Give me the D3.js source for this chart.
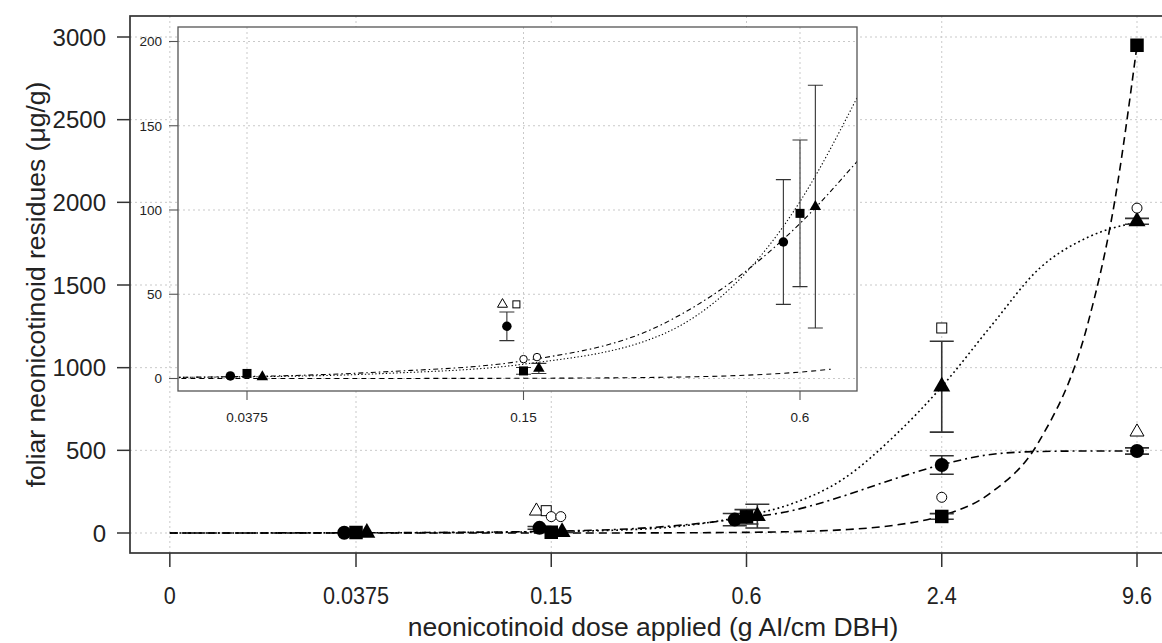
<!DOCTYPE html>
<html><head><meta charset="utf-8">
<script src="https://cdn.jsdelivr.net/npm/d3@7"></script>
<style>
html,body{margin:0;padding:0;background:#fff;}
svg{display:block;font-family:"Liberation Sans",Arial,Helvetica,sans-serif;}
</style></head><body>
<svg id="chart" width="1162" height="643"></svg>
<script>
// ---- data ---------------------------------------------------------------
// dose levels (g AI/cm DBH); the untreated control is drawn at the left end
const doseTicks = [0, 0.0375, 0.15, 0.6, 2.4, 9.6];
const doseTickLabels = ["0", "0.0375", "0.15", "0.6", "2.4", "9.6"];
const insetDoseTicks = [0.0375, 0.15, 0.6];
const doses = [0.0375, 0.15, 0.6, 2.4, 9.6];

// mean foliar residues (µg/g) with standard errors, one array per product
// (an SE of 0 means the bar is too short to draw)
const circleMean   = [1.5, 31, 81, 411, 496];
const circleSE     = [0, 8.5, 37, 56, 19];
const squareMean   = [3, 4.5, 98, 100, 2950];
const squareSE     = [0, 2, 43.5, 17, 0];
const triangleMean = [1, 6, 102, 885, 1885];
const triangleSE   = [0, 3, 72, 275, 18];

// fitted dose-response curves, sampled as [dose, residue]
const circleFit = [[0.01,0],[0.0375,1.2],[0.075,4],[0.15,10.5],[0.3,32],[0.6,92],[0.8,129],
  [1.2,225],[1.7,325],[2.4,413],[3.4,475],[4.8,493],[6.8,496],[9.6,496]];
const squareFit = [[0.01,0],[0.0375,0.005],[0.075,0.03],[0.15,0.14],[0.3,0.7],[0.6,3.8],[0.7,5.5],
  [0.8,7.5],[1.2,20],[1.7,46],[2.4,105],[3.4,243],[4.8,557],[6.8,1280],[8.2,2010],[9.6,2950]];
const triangleFit = [[0.01,0.2],[0.0375,1],[0.075,3],[0.15,8.5],[0.3,26],[0.6,105],[0.8,167],
  [1.2,330],[1.7,580],[2.4,885],[3.4,1250],[4.8,1600],[6.8,1790],[9.6,1880]];

// open symbols marking group differences: [dose, residue, shape]
const mainSymbols = [[0.15,133,"triangle"],[0.15,135,"square"],[0.15,99,"circle"],[0.15,99,"circle"],
  [2.4,1240,"square"],[2.4,216,"circle"],[9.6,1965,"circle"],[9.6,611,"triangle"]];
const insetSymbols = [[0.15,44,"triangle"],[0.15,44,"square"],[0.15,11.5,"circle"],[0.15,12.7,"circle"]];

const yTicks = [0, 500, 1000, 1500, 2000, 2500, 3000];
const insetYTicks = [0, 50, 100, 150, 200];

// ---- layout ---------------------------------------------------------------
const CONTROL_AT = 0.01;              // where dose 0 sits on the log axis
const dodgedDoses = [0.0375, 0.15, 0.6];
const dodge = {circle: 0.92, square: 1, triangle: 1.08};
const symbolNudge = [0.9, 0.965, 1, 1.07, 1, 1, 1, 1];

const series = [
  {shape: "circle",   mean: circleMean,   se: circleSE,   fit: circleFit,   dash: "8,4,2,4", insetDash: "5,3,1.5,3", insetMax: 1},
  {shape: "square",   mean: squareMean,   se: squareSE,   fit: squareFit,   dash: "8,5",     insetDash: "5,4",       insetMax: 0.7},
  {shape: "triangle", mean: triangleMean, se: triangleSE, fit: triangleFit, dash: "1.8,3",   insetDash: "1.3,2.2",   insetMax: 1}
];

const svg = d3.select("#chart");
const frame = {left: 130, right: 1176, top: 16, bottom: 553};
const x = d3.scaleLog().domain([0.0375, 9.6]).range([356, 1137]);
const y = d3.scaleLinear().domain([0, 3000]).range([533, 37]);
const xPos = d => x(d === 0 ? CONTROL_AT : d);

const inset = {left: 178, right: 857, top: 27, bottom: 391};
const xi = d3.scaleLog().domain([0.0375, 0.6]).range([247, 800]);
const yi = d3.scaleLinear().domain([0, 200]).range([378.5, 41.5]);

const gridColor = "#c9c9c9";

function marker(g, shape, cx, cy, size, filled, sw) {
  const fill = filled ? "#000" : "#fff";
  const stroke = "#000";
  if (shape === "circle") {
    g.append("circle").attr("cx", cx).attr("cy", cy).attr("r", size / 2)
      .attr("fill", fill).attr("stroke", filled ? "none" : stroke).attr("stroke-width", sw);
  } else if (shape === "square") {
    g.append("rect").attr("x", cx - size / 2).attr("y", cy - size / 2)
      .attr("width", size).attr("height", size)
      .attr("fill", fill).attr("stroke", filled ? "none" : stroke).attr("stroke-width", sw);
  } else {
    const w = size, h = size * 0.866;
    const p = [[cx, cy - h * 2 / 3], [cx + w / 2, cy + h / 3], [cx - w / 2, cy + h / 3]];
    g.append("path").attr("d", "M" + p.map(q => q.join(",")).join("L") + "Z")
      .attr("fill", fill).attr("stroke", filled ? "none" : stroke).attr("stroke-width", sw)
      .attr("stroke-linejoin", "miter");
  }
}

const markerSize = {main: {circle: 14, square: 13.5, triangle: 17}, inset: {circle: 9.5, square: 9, triangle: 11.5}};
const openSize = {main: {circle: 10, square: 10, triangle: 14}, inset: {circle: 7.5, square: 7, triangle: 10}};

function plotPanel(g, xs, ys, opts) {
  // fitted curves
  const line = d3.line().x(d => xs(d[0])).y(d => ys(d[1])).curve(d3.curveMonotoneX);
  series.forEach(s => {
    const pts = opts.inset ? s.fit.filter(d => d[0] <= s.insetMax) : s.fit;
    g.append("path").attr("d", line(pts)).attr("fill", "none")
      .attr("stroke", "#000").attr("stroke-width", opts.lw)
      .attr("stroke-dasharray", opts.inset ? s.insetDash : s.dash);
  });
  // error bars and means
  const shown = opts.inset ? doses.filter(d => d <= 0.6) : doses;
  series.forEach(s => {
    shown.forEach((d, i) => {
      const e = s.se[i];
      if (!e) return;
      const dx = dodgedDoses.includes(d) ? d * dodge[s.shape] : d;
      const cx = xs(dx), m = s.mean[i];
      const y0 = ys(m - e), y1 = ys(m + e), hw = opts.cap;
      g.append("path")
        .attr("d", `M${cx},${y0}V${y1}M${cx - hw},${y0}H${cx + hw}M${cx - hw},${y1}H${cx + hw}`)
        .attr("stroke", "#333").attr("stroke-width", opts.ebw).attr("fill", "none");
    });
  });
  series.forEach(s => {
    shown.forEach((d, i) => {
      const dx = dodgedDoses.includes(d) ? d * dodge[s.shape] : d;
      marker(g, s.shape, xs(dx), ys(s.mean[i]), opts.sizes[s.shape], true, 0);
    });
  });
  // open difference symbols
  opts.symbols.forEach((sym, k) => {
    const dx = sym[0] * symbolNudge[k];
    marker(g, sym[2], xs(dx), ys(sym[1]), opts.open[sym[2]], false, 1);
  });
}

// ---- main panel -------------------------------------------------------------
svg.append("clipPath").attr("id", "mainClip").append("rect")
  .attr("x", frame.left).attr("y", frame.top)
  .attr("width", frame.right - frame.left).attr("height", frame.bottom - frame.top);

const grid = svg.append("g").attr("stroke", gridColor).attr("stroke-width", 1).attr("stroke-dasharray", "2,3");
yTicks.forEach(t => grid.append("line").attr("x1", frame.left).attr("x2", frame.right)
  .attr("y1", y(t)).attr("y2", y(t)));
doseTicks.forEach(t => grid.append("line").attr("y1", frame.top).attr("y2", frame.bottom)
  .attr("x1", xPos(t)).attr("x2", xPos(t)));

const mainG = svg.append("g").attr("clip-path", "url(#mainClip)");
plotPanel(mainG, d => xPos(d), y, {inset: false, lw: 1.6, ebw: 1.6, cap: 12,
  sizes: markerSize.main, open: openSize.main, symbols: mainSymbols});

// frame and axes
svg.append("rect").attr("x", frame.left).attr("y", frame.top)
  .attr("width", frame.right - frame.left).attr("height", frame.bottom - frame.top)
  .attr("fill", "none").attr("stroke", "#333").attr("stroke-width", 1.7);

const axisG = svg.append("g").attr("fill", "#222");
yTicks.forEach(t => {
  axisG.append("line").attr("x1", 117).attr("x2", frame.left).attr("y1", y(t)).attr("y2", y(t))
    .attr("stroke", "#333").attr("stroke-width", 1.5);
  axisG.append("text").attr("x", 106).attr("y", y(t)).attr("dy", "0.36em")
    .attr("text-anchor", "end").attr("font-size", 24).text(t);
});
doseTicks.forEach((t, i) => {
  axisG.append("line").attr("y1", frame.bottom).attr("y2", 567).attr("x1", xPos(t)).attr("x2", xPos(t))
    .attr("stroke", "#333").attr("stroke-width", 1.5);
  // dose labels are set slightly condensed
  axisG.append("text").attr("transform", `translate(${xPos(t)},604) scale(0.9,1)`)
    .attr("text-anchor", "middle").attr("font-size", 24).text(doseTickLabels[i]);
});
axisG.append("text").attr("x", (frame.left + frame.right) / 2).attr("y", 636)
  .attr("text-anchor", "middle").attr("font-size", 26.5)
  .text("neonicotinoid dose applied (g AI/cm DBH)");
axisG.append("text").attr("transform", `translate(45,${(frame.top + frame.bottom) / 2}) rotate(-90)`)
  .attr("text-anchor", "middle").attr("font-size", 26.5)
  .text("foliar neonicotinoid residues (μg/g)");

// ---- inset panel: low-dose detail -------------------------------------------
svg.append("rect").attr("x", inset.left).attr("y", inset.top)
  .attr("width", inset.right - inset.left).attr("height", inset.bottom - inset.top)
  .attr("fill", "#fff");
svg.append("clipPath").attr("id", "insetClip").append("rect")
  .attr("x", inset.left).attr("y", inset.top)
  .attr("width", inset.right - inset.left).attr("height", inset.bottom - inset.top);

const igrid = svg.append("g").attr("stroke", gridColor).attr("stroke-width", 1).attr("stroke-dasharray", "2,3");
insetYTicks.forEach(t => igrid.append("line").attr("x1", inset.left).attr("x2", inset.right)
  .attr("y1", yi(t)).attr("y2", yi(t)));
insetDoseTicks.forEach(t => igrid.append("line").attr("y1", inset.top).attr("y2", inset.bottom)
  .attr("x1", xi(t)).attr("x2", xi(t)));

const insetG = svg.append("g").attr("clip-path", "url(#insetClip)");
plotPanel(insetG, xi, yi, {inset: true, lw: 1.1, ebw: 1.1, cap: 7.5,
  sizes: markerSize.inset, open: openSize.inset, symbols: insetSymbols});

svg.append("rect").attr("x", inset.left).attr("y", inset.top)
  .attr("width", inset.right - inset.left).attr("height", inset.bottom - inset.top)
  .attr("fill", "none").attr("stroke", "#555").attr("stroke-width", 1.3);

const iaxis = svg.append("g").attr("fill", "#222").attr("font-size", 13.5);
insetYTicks.forEach(t => {
  iaxis.append("line").attr("x1", 169).attr("x2", inset.left).attr("y1", yi(t)).attr("y2", yi(t))
    .attr("stroke", "#555").attr("stroke-width", 1.1);
  iaxis.append("text").attr("x", 162).attr("y", yi(t)).attr("dy", "0.36em")
    .attr("text-anchor", "end").text(t);
});
insetDoseTicks.forEach(t => {
  iaxis.append("line").attr("y1", inset.bottom).attr("y2", 400).attr("x1", xi(t)).attr("x2", xi(t))
    .attr("stroke", "#555").attr("stroke-width", 1.1);
  iaxis.append("text").attr("x", xi(t)).attr("y", 421.5)
    .attr("text-anchor", "middle").text(doseTickLabels[doseTicks.indexOf(t)]);
});
</script>
</body></html>
